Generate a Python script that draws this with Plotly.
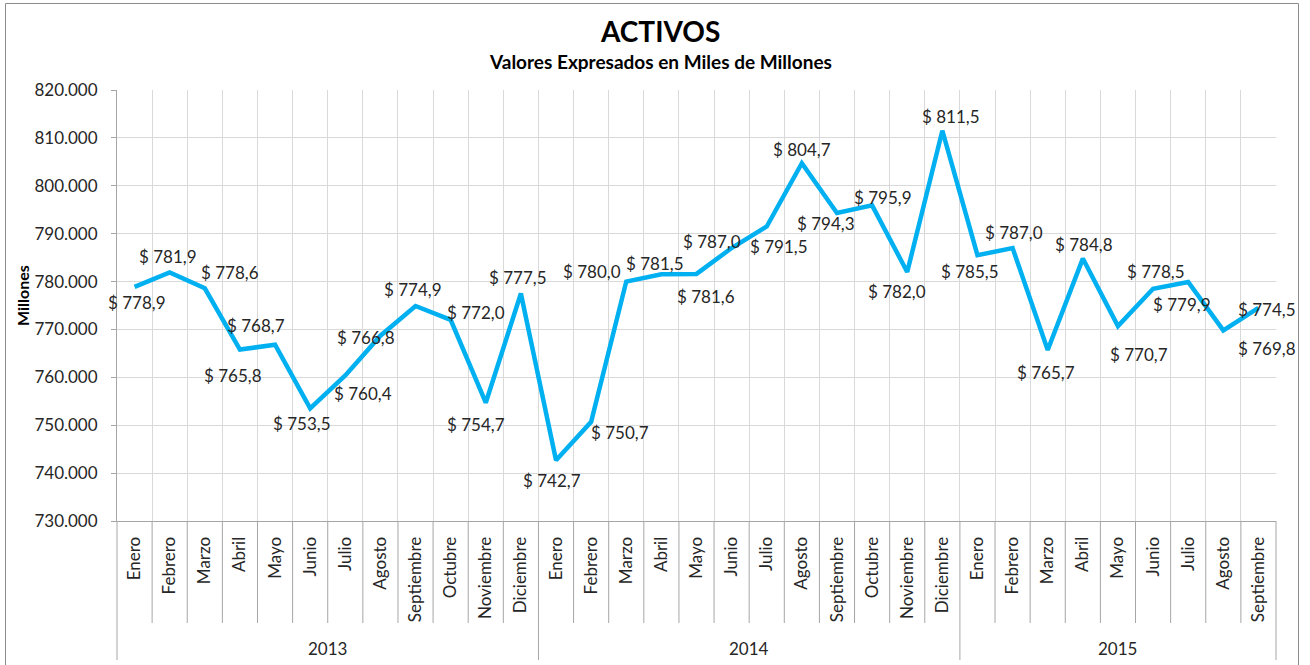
import plotly.graph_objects as go

# ---------------- data ----------------
years = ["2013", "2014", "2015"]
months_per_year = [12, 12, 9]
month_names = ["Enero", "Febrero", "Marzo", "Abril", "Mayo", "Junio", "Julio",
               "Agosto", "Septiembre", "Octubre", "Noviembre", "Diciembre"]
values = [778.9, 781.9, 778.6, 765.8, 766.8, 753.5, 760.4, 768.7, 774.9, 772.0, 754.7, 777.5,
          742.7, 750.7, 780.0, 781.5, 781.6, 787.0, 791.5, 804.7, 794.3, 795.9, 782.0, 811.5,
          785.5, 787.0, 765.7, 784.8, 770.7, 778.5, 779.9, 769.8, 774.5]
y_ticks = [730, 740, 750, 760, 770, 780, 790, 800, 810, 820]
y_tick_labels = ["730.000", "740.000", "750.000", "760.000", "770.000",
                 "780.000", "790.000", "800.000", "810.000", "820.000"]
# label placement offsets in px (dx right, dy down) as arranged in the original chart
label_dx = [2, -2, 25, -7, 91, -8, 18, -124, -3, 25, -10, -3,
            -4, 29, -34, -6, 9, -20, 12, 0, -11, 11, -10, 9,
            -7, 1, -2, 1, 21, 3, -6, 44, 9]
label_dy = [16, -16, -16, 26, -7, 15, 18, -10, -16, -7, 22, -16,
            20, 11, -10, -11, 23, -7, 20, -14, 10, -8, 20, -14,
            16, -16, 22, -14, 28, -17, 22, 18, 2]

months = []
for n in months_per_year:
    months += month_names[:n]
N = len(values)
x = list(range(N))

FONT = "Lato"
TXT = "#262626"
GRID = "#D9D9D9"
AXIS = "#A6A6A6"

W, H = 1310, 665
# plot-area geometry in page pixels
L, R, T, B = 117, 1276, 90, 521

def py(p):
    return (B - p) / (B - T)

def px(p):
    return (p - L) / (R - L)

fig = go.Figure()
fig.add_trace(go.Scatter(x=x, y=values, mode="lines",
                         line=dict(color="#00B0F0", width=4.5),
                         hoverinfo="skip", showlegend=False))

annotations = []
for i, v in enumerate(values):
    txt = "$ " + f"{v:.1f}".replace(".", ",")
    annotations.append(dict(x=i, y=v, xref="x", yref="y", text=txt, showarrow=False,
                            xanchor="center", yanchor="middle",
                            xshift=label_dx[i], yshift=-label_dy[i],
                            font=dict(family=FONT, size=17, color=TXT)))

shapes = []
starts = [0]
for n in months_per_year:
    starts.append(starts[-1] + n)
for k in range(N + 1):
    is_year = k in starts
    shapes.append(dict(type="line", xref="paper", yref="paper",
                       x0=k / N, x1=k / N, y0=0, y1=py(660 if is_year else 623),
                       line=dict(color=AXIS, width=1)))
for j, yr in enumerate(years):
    center = (starts[j] + starts[j + 1] - 1) / 2
    annotations.append(dict(x=center, y=py(648), xref="x", yref="paper", text=yr,
                            xanchor="center", yanchor="middle",
                            showarrow=False, font=dict(family=FONT, size=17, color=TXT)))
shapes.append(dict(type="rect", xref="paper", yref="paper",
                   x0=px(5.5), x1=px(1298.5), y0=py(672), y1=py(3.5),
                   line=dict(color="#8C8C8C", width=1), layer="below"))

annotations.append(dict(x=px(660), y=py(31), xref="paper", yref="paper", text="<b>ACTIVOS</b>",
                        xanchor="center", yanchor="middle",
                        showarrow=False, font=dict(family=FONT, size=28, color="#000000")))
annotations.append(dict(x=px(660), y=py(61), xref="paper", yref="paper",
                        text="<b>Valores Expresados en Miles de Millones</b>",
                        xanchor="center", yanchor="middle",
                        showarrow=False, font=dict(family=FONT, size=19, color="#000000")))
annotations.append(dict(x=px(22), y=py(296), xref="paper", yref="paper", text="<b>Millones</b>",
                        textangle=-90, showarrow=False, xanchor="center", yanchor="middle",
                        font=dict(family=FONT, size=16, color="#000000")))

fig.update_layout(
    width=W, height=H,
    margin=dict(l=L, r=W - R, t=T, b=H - B, pad=0),
    paper_bgcolor="white", plot_bgcolor="white",
    showlegend=False,
    annotations=annotations, shapes=shapes,
    xaxis=dict(range=[-0.5, N - 0.5], tickmode="array", tickvals=x, ticktext=months,
               tickangle=-90, showgrid=False, zeroline=False,
               showline=True, linecolor=AXIS, linewidth=1, ticks="",
               ticklabelstandoff=8,
               tickfont=dict(family=FONT, size=17, color=TXT),
               minor=dict(tickmode="array", tickvals=[k - 0.5 for k in range(N + 1)],
                          showgrid=True, gridcolor=GRID, gridwidth=1, ticks="")),
    yaxis=dict(range=[730, 820], tickmode="array", tickvals=y_ticks, ticktext=y_tick_labels,
               showgrid=True, gridcolor=GRID, gridwidth=1, zeroline=False,
               showline=True, linecolor=AXIS, linewidth=1,
               ticks="outside", ticklen=5, tickcolor=AXIS, ticklabelstandoff=10,
               tickfont=dict(family=FONT, size=17, color=TXT)),
)

fig.write_html("out.html", config={"displayModeBar": False},
               post_script="document.body.style.margin='0';document.body.style.overflow='hidden';")
